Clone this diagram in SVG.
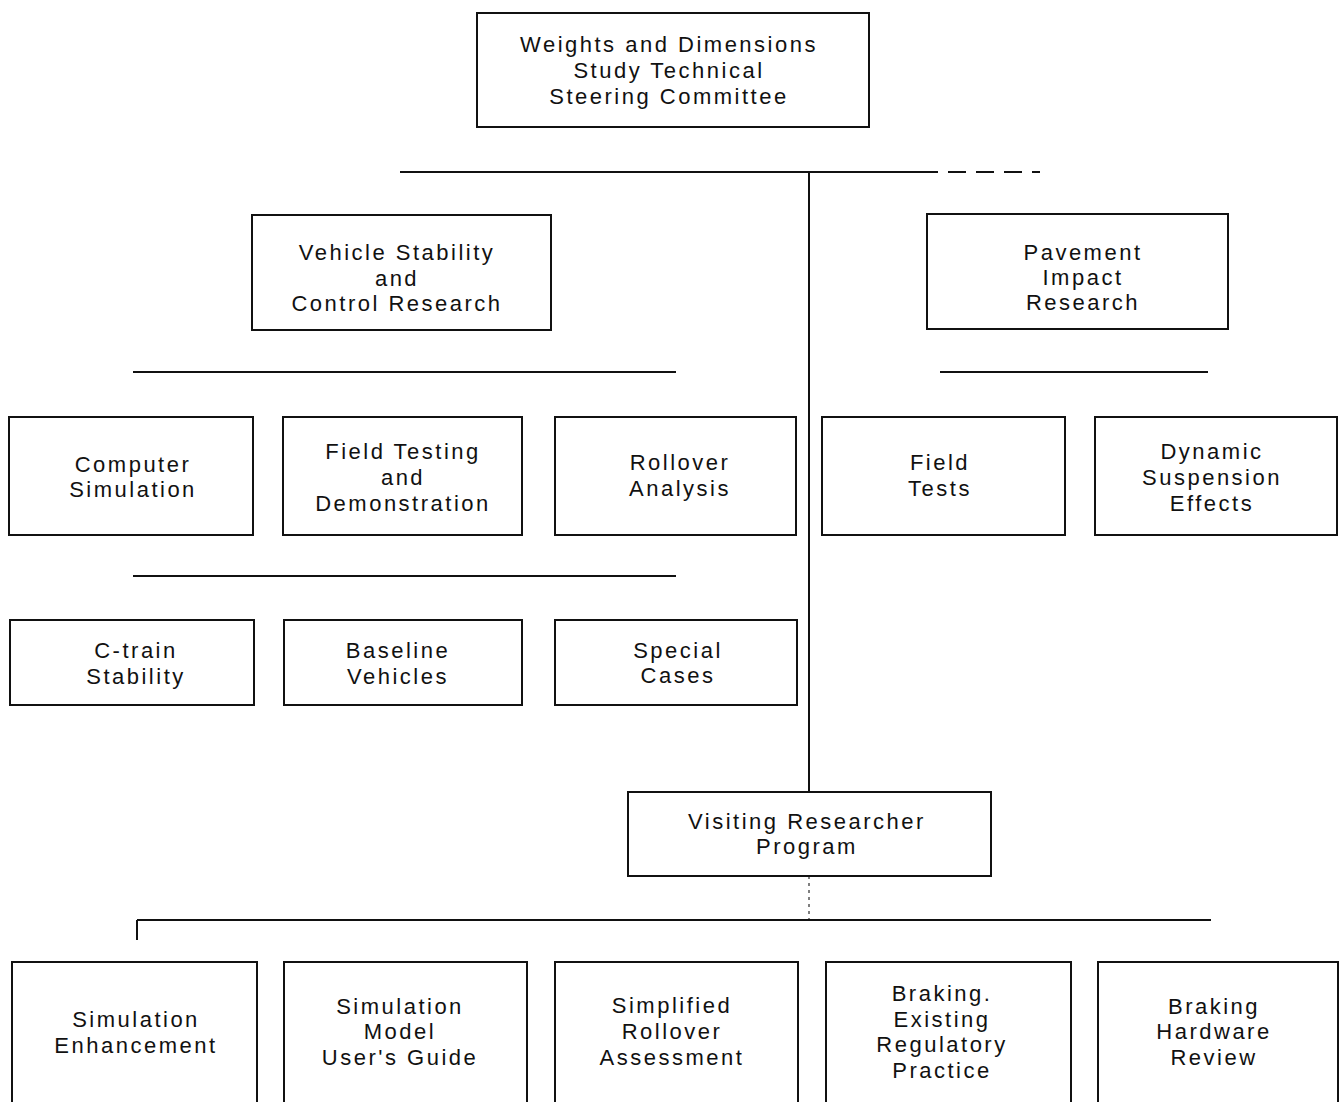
<svg xmlns="http://www.w3.org/2000/svg" width="1342" height="1102" viewBox="0 0 1342 1102">
<style>
.box{fill:#fff;stroke:#111;stroke-width:2}
.t{font-family:"Liberation Sans",Arial,sans-serif;font-size:22px;letter-spacing:2.5px;fill:#111;text-anchor:middle}
.ln{stroke:#111;stroke-width:2;fill:none}
.fd{stroke:#555;stroke-width:1.5;fill:none;stroke-dasharray:3 4}
</style>
<rect width="1342" height="1102" fill="#fff"/>
<g id="connectors">
<line class="ln" x1="400" y1="172" x2="920" y2="172"/>
<line class="ln" x1="920" y1="172" x2="1040" y2="172" stroke-dasharray="18 10"/>
<line class="ln" x1="809" y1="172" x2="809" y2="792"/>
<line class="ln" x1="133" y1="372" x2="676" y2="372"/>
<line class="ln" x1="940" y1="372" x2="1208" y2="372"/>
<line class="ln" x1="133" y1="576" x2="676" y2="576"/>
<line class="fd" x1="809" y1="876" x2="809" y2="920"/>
<line class="ln" x1="137" y1="920" x2="1211" y2="920"/>
<line class="ln" x1="137" y1="920" x2="137" y2="940"/>
</g>
<g id="n1"><rect class="box" x="477" y="13" width="392" height="114"/>
<text class="t" x="669" y="52">Weights and Dimensions</text>
<text class="t" x="669" y="78">Study Technical</text>
<text class="t" x="669" y="104">Steering Committee</text></g>
<g id="n2"><rect class="box" x="252" y="215" width="299" height="115"/>
<text class="t" x="397" y="260">Vehicle Stability</text>
<text class="t" x="397" y="286">and</text>
<text class="t" x="397" y="311">Control Research</text></g>
<g id="n3"><rect class="box" x="927" y="214" width="301" height="115"/>
<text class="t" x="1083" y="260">Pavement</text>
<text class="t" x="1083" y="285">Impact</text>
<text class="t" x="1083" y="310">Research</text></g>
<g id="n4"><rect class="box" x="9" y="417" width="244" height="118"/>
<text class="t" x="133" y="472">Computer</text>
<text class="t" x="133" y="497">Simulation</text></g>
<g id="n5"><rect class="box" x="283" y="417" width="239" height="118"/>
<text class="t" x="403" y="459">Field Testing</text>
<text class="t" x="403" y="485">and</text>
<text class="t" x="403" y="511">Demonstration</text></g>
<g id="n6"><rect class="box" x="555" y="417" width="241" height="118"/>
<text class="t" x="680" y="470">Rollover</text>
<text class="t" x="680" y="496">Analysis</text></g>
<g id="n7"><rect class="box" x="822" y="417" width="243" height="118"/>
<text class="t" x="940" y="470">Field</text>
<text class="t" x="940" y="496">Tests</text></g>
<g id="n8"><rect class="box" x="1095" y="417" width="242" height="118"/>
<text class="t" x="1212" y="459">Dynamic</text>
<text class="t" x="1212" y="485">Suspension</text>
<text class="t" x="1212" y="511">Effects</text></g>
<g id="n9"><rect class="box" x="10" y="620" width="244" height="85"/>
<text class="t" x="136" y="658">C-train</text>
<text class="t" x="136" y="684">Stability</text></g>
<g id="n10"><rect class="box" x="284" y="620" width="238" height="85"/>
<text class="t" x="398" y="658">Baseline</text>
<text class="t" x="398" y="684">Vehicles</text></g>
<g id="n11"><rect class="box" x="555" y="620" width="242" height="85"/>
<text class="t" x="678" y="658">Special</text>
<text class="t" x="678" y="683">Cases</text></g>
<g id="n12"><rect class="box" x="628" y="792" width="363" height="84"/>
<text class="t" x="807" y="829">Visiting Researcher</text>
<text class="t" x="807" y="854">Program</text></g>
<g id="n13"><rect class="box" x="12" y="962" width="245" height="150"/>
<text class="t" x="136" y="1027">Simulation</text>
<text class="t" x="136" y="1053">Enhancement</text></g>
<g id="n14"><rect class="box" x="284" y="962" width="243" height="150"/>
<text class="t" x="400" y="1014">Simulation</text>
<text class="t" x="400" y="1039">Model</text>
<text class="t" x="400" y="1065">User's Guide</text></g>
<g id="n15"><rect class="box" x="555" y="962" width="243" height="150"/>
<text class="t" x="672" y="1013">Simplified</text>
<text class="t" x="672" y="1039">Rollover</text>
<text class="t" x="672" y="1065">Assessment</text></g>
<g id="n16"><rect class="box" x="826" y="962" width="245" height="150"/>
<text class="t" x="942" y="1001">Braking.</text>
<text class="t" x="942" y="1027">Existing</text>
<text class="t" x="942" y="1052">Regulatory</text>
<text class="t" x="942" y="1078">Practice</text></g>
<g id="n17"><rect class="box" x="1098" y="962" width="240" height="150"/>
<text class="t" x="1214" y="1014">Braking</text>
<text class="t" x="1214" y="1039">Hardware</text>
<text class="t" x="1214" y="1065">Review</text></g>
</svg>
